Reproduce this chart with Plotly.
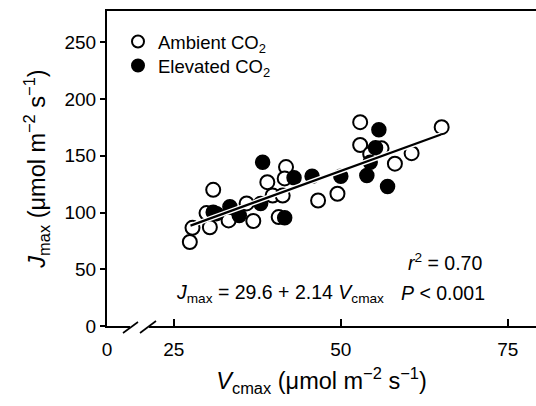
import plotly.graph_objects as go

# ---- data ----
amb_v = [27.4, 27.8, 29.9, 30.4, 30.9, 33.2, 35.9, 36.9, 39.0, 39.8, 41.3, 41.8, 41.6, 40.7,
         46.6, 49.5, 52.9, 52.9, 54.4, 56.1, 58.1, 60.6, 65.1]
amb_j = [74, 86.5, 99.5, 87, 120, 93, 108, 92.5, 126.7, 115, 115, 140, 130, 96,
         110.6, 116.5, 179.6, 159.5, 151.5, 156.5, 143, 152.3, 175.2]

elev_v = [30.9, 31.4, 33.4, 34.8, 38.0, 38.3, 41.6, 43.0, 45.7, 50.0, 53.9, 54.4, 55.2, 55.7, 57.0]
elev_j = [100.3, 99, 105, 97.4, 108, 144.3, 95.3, 130.6, 132, 132, 132.6, 144.3, 157, 173, 123]

# regression: Jmax = 29.6 + 2.14 Vcmax
intercept, slope = 29.6, 2.14
fit_v = [27.5, 65.0]
fit_j = [intercept + slope * v for v in fit_v]

x_tickvals = [15, 25, 50, 75]
x_ticktext = ["0", "25", "50", "75"]
y_tickvals = [0, 50, 100, 150, 200, 250]

# ---- layout geometry ----
W, H = 536, 406
L, R, T, B = 107, 0, 11, 80
pw, ph = W - L - R, H - T - B

def px(x):
    return (x - L) / pw

def py(y):
    return (H - B - y) / ph

FONT = "Liberation Sans, Arial, Helvetica, sans-serif"

fig = go.Figure()
fig.add_trace(go.Scatter(
    x=amb_v, y=amb_j, mode="markers", name="Ambient CO<sub>2</sub>", legend="legend",
    marker=dict(symbol="circle", size=14, color="white", line=dict(color="black", width=2)),
))
fig.add_trace(go.Scatter(
    x=elev_v, y=elev_j, mode="markers", name="Elevated CO<sub>2</sub>", legend="legend2",
    marker=dict(symbol="circle", size=14, color="black", line=dict(color="black", width=1.5)),
))
fig.add_trace(go.Scatter(
    x=fit_v, y=fit_j, mode="lines", showlegend=False, hoverinfo="skip",
    line=dict(color="white", width=5),
))
fig.add_trace(go.Scatter(
    x=fit_v, y=fit_j, mode="lines", showlegend=False,
    line=dict(color="black", width=2.2),
))

shapes = [
    # gap in the x axis (break)
    dict(type="line", xref="paper", yref="paper", x0=px(130), x1=px(149), y0=py(H - B), y1=py(H - B),
         line=dict(color="white", width=5), layer="above"),
    dict(type="line", xref="paper", yref="paper", x0=px(123), y0=py(333), x1=px(138), y1=py(322),
         line=dict(color="black", width=1.6), layer="above"),
    dict(type="line", xref="paper", yref="paper", x0=px(140), y0=py(333), x1=px(156), y1=py(321),
         line=dict(color="black", width=1.6), layer="above"),
]

AF = 19.5
annotations = [
    dict(xref="paper", yref="paper", x=px(406), y=py(262), xanchor="left", yanchor="middle",
         text="<i>r</i><sup>2</sup> = 0.70", showarrow=False, font=dict(size=AF, color="black", family=FONT)),
    dict(xref="paper", yref="paper", x=px(174), y=py(293), xanchor="left", yanchor="middle",
         text="<i>J</i><sub>max</sub> = 29.6 + 2.14 <i>V</i><sub>cmax</sub>", showarrow=False,
         font=dict(size=AF, color="black", family=FONT)),
    dict(xref="paper", yref="paper", x=px(399), y=py(293), xanchor="left", yanchor="middle",
         text="<i>P</i> &lt; 0.001", showarrow=False, font=dict(size=AF, color="black", family=FONT)),
]

leg_common = dict(xanchor="left", yanchor="top", bgcolor="rgba(0,0,0,0)",
                  font=dict(size=18.5), itemsizing="constant")

fig.update_layout(
    width=W, height=H,
    margin=dict(l=L, r=R, t=T, b=B, pad=0),
    paper_bgcolor="white", plot_bgcolor="white",
    font=dict(family=FONT, size=19, color="black"),
    showlegend=True,
    legend=dict(x=px(118), y=py(23), **leg_common),
    legend2=dict(x=px(118), y=py(47), **leg_common),
    shapes=shapes,
    annotations=annotations,
    xaxis=dict(
        range=[15, 15 + pw / 6.68], tickvals=x_tickvals, ticktext=x_ticktext,
        showgrid=False, zeroline=False, showline=True, linecolor="black", linewidth=2,
        mirror=True, ticks="inside", ticklen=7, tickwidth=1.6, tickcolor="black",
        ticklabelstandoff=5,
        title=dict(text="<i>V</i><sub>cmax</sub> (μmol m<sup>−2</sup> s<sup>−1</sup>)",
                   font=dict(size=23.5), standoff=14),
    ),
    yaxis=dict(
        range=[0, ph / 1.135], tickvals=y_tickvals,
        showgrid=False, zeroline=False, showline=True, linecolor="black", linewidth=2,
        mirror=False, ticks="outside", ticklen=5, tickwidth=1.6, tickcolor="black",
        title=dict(text="<i>J</i><sub>max</sub> (μmol m<sup>−2</sup> s<sup>−1</sup>)",
                   font=dict(size=23.5), standoff=12),
    ),
)

fig.write_html("out.html")
